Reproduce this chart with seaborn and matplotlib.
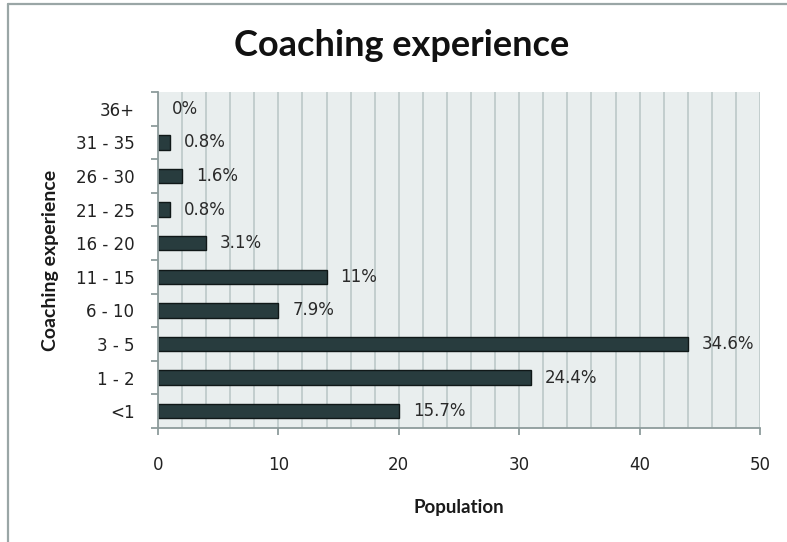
import matplotlib
matplotlib.use("Agg")
import matplotlib.pyplot as plt
from matplotlib.lines import Line2D
from matplotlib.ticker import MultipleLocator
import seaborn as sns
import pandas as pd

# Years of coaching experience (top row first) and number of respondents
categories = ["36+", "31 - 35", "26 - 30", "21 - 25", "16 - 20",
              "11 - 15", "6 - 10", "3 - 5", "1 - 2", "<1"]
counts = [0, 1, 2, 1, 4, 14, 10, 44, 31, 20]

total = sum(counts)
shares = [round(100 * c / total, 1) for c in counts]
labels = [f"{s:g}%" for s in shares]

df = pd.DataFrame({"experience": categories, "population": counts})

sns.set_theme(style="white")
plt.rcParams["font.family"] = ["DejaVu Sans"]

fig = plt.figure(figsize=(7.87, 5.42), dpi=100)
ax = fig.add_axes([158 / 787, 1 - 428 / 542, (760 - 158) / 787, (428 - 92) / 542])

sns.barplot(data=df, x="population", y="experience", order=categories,
            orient="h", color="#283c3e", edgecolor="#101818", linewidth=1.0,
            width=0.43, saturation=1, ax=ax)

# no outline for empty bars
for patch in ax.patches:
    if patch.get_width() == 0:
        patch.set_edgecolor("none")

ax.set_facecolor("#e9eeee")
ax.set_xlim(0, 50)
ax.set_ylim(len(categories) - 0.5, -0.5)

# vertical grid every 2 units, labelled ticks every 10
ax.xaxis.set_major_locator(MultipleLocator(10))
ax.xaxis.set_minor_locator(MultipleLocator(2))
ax.grid(which="both", axis="x", color="#bcc8c8", linewidth=1.2)
ax.grid(which="both", axis="y", visible=False)
ax.set_axisbelow(True)

for side in ("top", "right"):
    ax.spines[side].set_visible(False)
for side in ("left", "bottom"):
    ax.spines[side].set_color("#8e9c9c")
    ax.spines[side].set_linewidth(1.3)

ax.tick_params(axis="x", which="major", bottom=True, length=5, width=1.3,
               color="#8e9c9c", pad=15, labelsize=12, labelcolor="#222222")
ax.tick_params(axis="x", which="minor", bottom=False)

# category ticks sit on the boundaries between bars
ax.set_yticks(range(len(categories)))
ax.set_yticklabels(categories)
ax.yaxis.set_minor_locator(plt.FixedLocator([i - 0.5 for i in range(len(categories) + 1)]))
ax.tick_params(axis="y", which="major", left=False, pad=11, labelsize=12,
               labelcolor="#222222")
ax.tick_params(axis="y", which="minor", left=True, length=5, width=1.3,
               color="#8e9c9c")

for cont in ax.containers:
    ax.bar_label(cont, labels=labels, padding=10, fontsize=12, color="#2a2a2a")

ax.set_xlabel("Population", fontsize=13.5, fontweight="bold", family="Lato",
              labelpad=18, color="#1a1a1a")
ax.set_ylabel("Coaching experience", fontsize=14, fontweight="bold",
              family="Lato", labelpad=12, color="#1a1a1a")

fig.text(0.51, 1 - 45 / 542, "Coaching experience", ha="center", va="center",
         fontsize=26, fontweight="bold", family="Lato", color="#111111")

# chart-area frame along the top and left edges
fig.add_artist(Line2D([7.5 / 787, 7.5 / 787], [0, 1 - 3.5 / 542],
                      transform=fig.transFigure, color="#9aa6a6", linewidth=1.6))
fig.add_artist(Line2D([7.5 / 787, 1], [1 - 3.5 / 542, 1 - 3.5 / 542],
                      transform=fig.transFigure, color="#9aa6a6", linewidth=1.6))

fig.savefig("out.png", dpi=100, facecolor="white")
